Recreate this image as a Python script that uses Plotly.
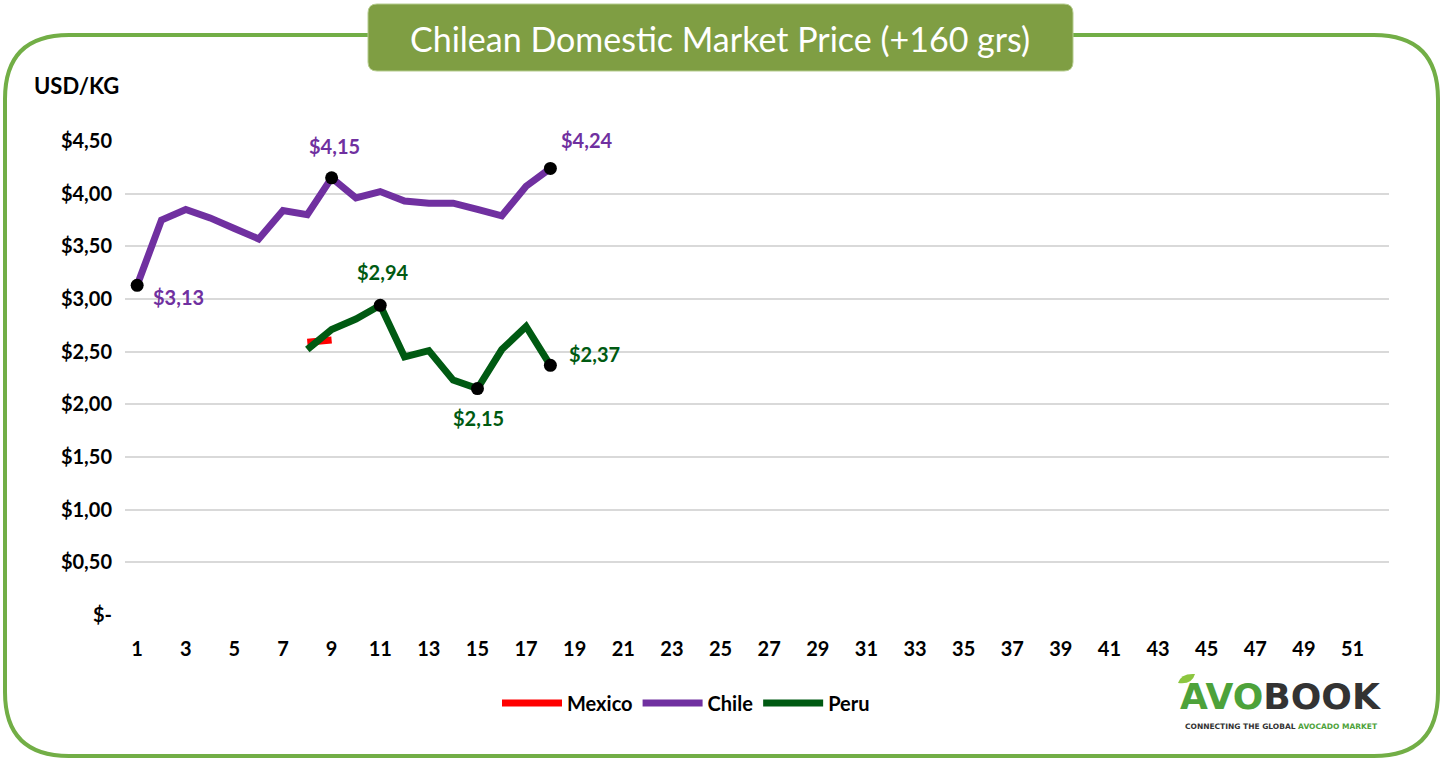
import plotly.graph_objects as go

# ---------------- data ----------------
weeks = list(range(1, 19))
chile = [3.13, 3.75, 3.85, 3.77, 3.67, 3.57, 3.84, 3.80, 4.15, 3.96,
         4.02, 3.93, 3.91, 3.91, 3.85, 3.79, 4.07, 4.24]
peru_weeks = list(range(8, 19))
peru = [2.52, 2.71, 2.81, 2.94, 2.45, 2.51, 2.23, 2.15, 2.52, 2.74, 2.37]
mexico_weeks = [8, 9]
mexico = [2.59, 2.61]

chile_hl_weeks = [1, 9, 18]
chile_hl = [3.13, 4.15, 4.24]
chile_hl_text = ["$3,13", "$4,15", "$4,24"]
peru_hl_weeks = [11, 15, 18]
peru_hl = [2.94, 2.15, 2.37]
peru_hl_text = ["$2,94", "$2,15", "$2,37"]

y_ticks = [0, 0.5, 1, 1.5, 2, 2.5, 3, 3.5, 4, 4.5]
y_labels = ["$-", "$0,50", "$1,00", "$1,50", "$2,00", "$2,50",
            "$3,00", "$3,50", "$4,00", "$4,50"]
x_ticks = list(range(1, 52, 2))

RED = "#FF0000"
PURPLE = "#7030A0"
GREEN = "#005A12"
FONT = "Lato"

# label offsets (px) for the highlighted points
chile_shift = [(41, -12), (3, 32), (36, 28)]
peru_shift = [(2, 33), (1, -29), (44, 11)]

# plot area in pixels (for decorations)
L, R, T, B = 125, 1389, 141, 615
W, H = R - L, B - T


def px(x):
    return (x - L) / W


def py(y):
    return (B - y) / H


def rounded(x0, y0, x1, y1, r):
    return (f"M {px(x0)},{py(y0 + r)} Q {px(x0)},{py(y0)} {px(x0 + r)},{py(y0)} "
            f"L {px(x1 - r)},{py(y0)} Q {px(x1)},{py(y0)} {px(x1)},{py(y0 + r)} "
            f"L {px(x1)},{py(y1 - r)} Q {px(x1)},{py(y1)} {px(x1 - r)},{py(y1)} "
            f"L {px(x0 + r)},{py(y1)} Q {px(x0)},{py(y1)} {px(x0)},{py(y1 - r)} Z")


fig = go.Figure()

fig.add_trace(go.Scatter(x=mexico_weeks, y=mexico, mode="lines", name="Mexico",
                         line=dict(color=RED, width=7)))
fig.add_trace(go.Scatter(x=weeks, y=chile, mode="lines", name="Chile",
                         line=dict(color=PURPLE, width=7)))
fig.add_trace(go.Scatter(x=peru_weeks, y=peru, mode="lines", name="Peru",
                         line=dict(color=GREEN, width=7)))

fig.add_trace(go.Scatter(x=chile_hl_weeks, y=chile_hl, mode="markers",
                         marker=dict(color="black", size=13), showlegend=False))
fig.add_trace(go.Scatter(x=peru_hl_weeks, y=peru_hl, mode="markers",
                         marker=dict(color="black", size=13), showlegend=False))

# ---------------- decorations ----------------
shapes = [
    dict(type="path", xref="paper", yref="paper", path=rounded(5, 35, 1438, 756, 64),
         line=dict(color="#72AE46", width=4), layer="above"),
    dict(type="path", xref="paper", yref="paper", path=rounded(368, 4, 1073, 71, 9),
         fillcolor="#7F9E43", line=dict(color="#B5CC8E", width=1), layer="above"),
    dict(type="path", xref="paper", yref="paper",
         path=f"M {px(1178)},{py(683)} Q {px(1181)},{py(673)} {px(1195)},{py(674)} "
              f"Q {px(1192)},{py(685)} {px(1178)},{py(683)} Z",
         fillcolor="#8CC63F", line=dict(width=0), layer="above"),
]

annotations = [
    dict(text="Chilean Domestic Market Price (+160 grs)", x=px(720), y=py(39),
         xref="paper", yref="paper", showarrow=False, xanchor="center", yanchor="middle",
         font=dict(family=FONT, size=34, color="white")),
    dict(text="<b>USD/KG</b>", x=px(32), y=py(86), xref="paper", yref="paper",
         xanchor="left", yanchor="middle", showarrow=False,
         font=dict(family=FONT, size=22, color="black")),
    dict(text="<b><span style='color:#4DA23A'>AVO</span>"
              "<span style='color:#333333'>BOOK</span></b>",
         x=px(1280), y=py(696), xref="paper", yref="paper", showarrow=False,
         xanchor="center", yanchor="middle",
         font=dict(family="DejaVu Sans", size=36)),
    dict(text="<b><span style='color:#333333'>CONNECTING THE GLOBAL </span>"
              "<span style='color:#4DA23A'>AVOCADO MARKET</span></b>",
         x=px(1281), y=py(726), xref="paper", yref="paper", showarrow=False,
         xanchor="center", yanchor="middle",
         font=dict(family="DejaVu Sans", size=7.5)),
]

for xs, ys, texts, shifts, col in [
    (chile_hl_weeks, chile_hl, chile_hl_text, chile_shift, PURPLE),
    (peru_hl_weeks, peru_hl, peru_hl_text, peru_shift, GREEN),
]:
    for xv, yv, t, (dx, dy) in zip(xs, ys, texts, shifts):
        annotations.append(dict(x=xv, y=yv, text=f"<b>{t}</b>", showarrow=False,
                                xshift=dx, yshift=dy, xanchor="center", yanchor="middle",
                                font=dict(family=FONT, size=20, color=col)))

fig.update_layout(
    width=1442, height=759,
    margin=dict(l=L, r=1442 - R, t=T, b=759 - B),
    paper_bgcolor="white", plot_bgcolor="white",
    font=dict(family=FONT, color="black"),
    shapes=shapes, annotations=annotations,
    legend=dict(orientation="h", x=px(686), y=py(703), xanchor="center",
                yanchor="middle", font=dict(family=FONT, size=20, weight="bold"),
                itemwidth=60, traceorder="normal"),
    showlegend=True,
)

fig.update_xaxes(range=[0.5, 52.5], tickvals=x_ticks, ticktext=[str(v) for v in x_ticks],
                 showgrid=False, zeroline=False, showline=False, ticks="",
                 tickfont=dict(family=FONT, size=20, weight="bold"), ticklabelstandoff=20)
fig.update_yaxes(range=[0, 4.5], tickvals=y_ticks, ticktext=y_labels,
                 showgrid=True, gridcolor="#D9D9D9", gridwidth=2, zeroline=False,
                 showline=False, ticks="",
                 tickfont=dict(family=FONT, size=20, weight="bold"), ticklabelstandoff=12)

fig.write_html("out.html", config={"displayModeBar": False},
               post_script="document.body.style.margin='0';")
